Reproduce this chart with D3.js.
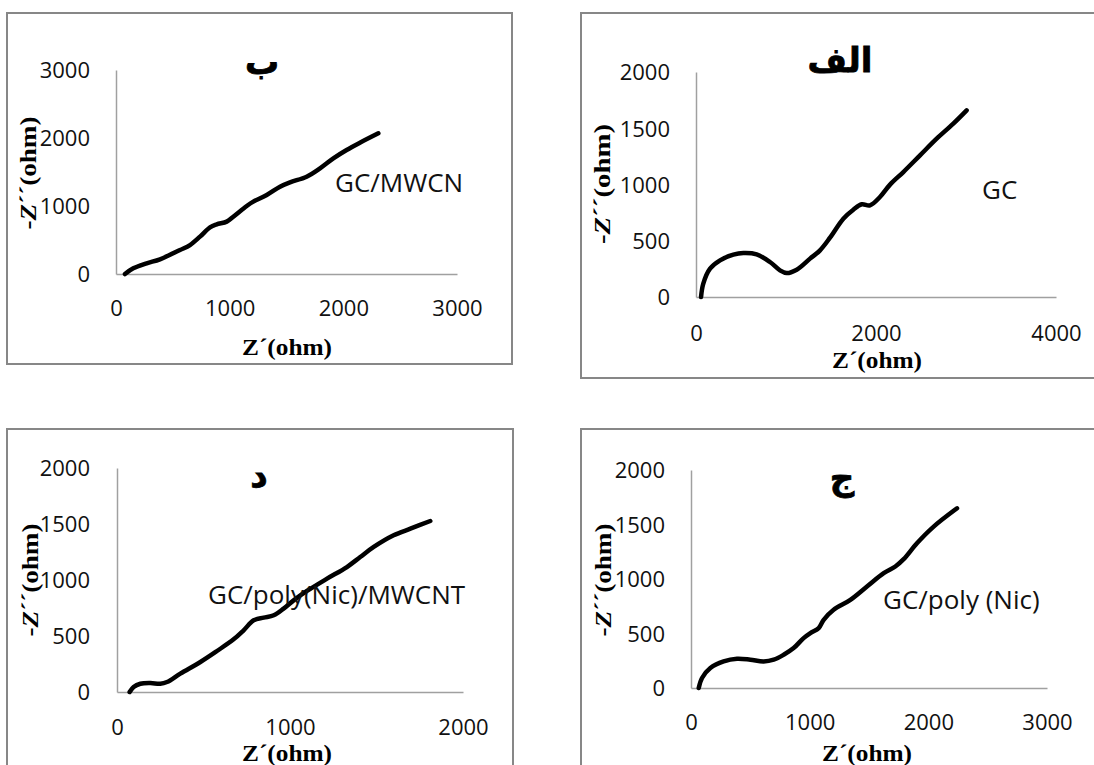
<!DOCTYPE html>
<html>
<head>
<meta charset="utf-8">
<script src="https://cdn.jsdelivr.net/npm/d3@7"></script>
<style>
  body { margin: 0; background: #fff; }
  svg { display: block; }
</style>
</head>
<body>
<svg id="chart" width="1094" height="765"></svg>
<script>
// Nyquist data: real part Z' and negative imaginary part -Z'' (ohm)

// (الف) bare GC electrode
const gcZre = [56, 81, 156, 267, 415, 526, 674, 822, 933, 1007, 1119, 1267, 1378, 1489, 1637, 1748, 1841, 1933, 2044, 2156, 2304, 2489, 2674, 2859, 3007];
const gcZim = [0, 119, 252, 326, 376, 391, 379, 311, 237, 213, 243, 341, 415, 527, 696, 776, 824, 815, 889, 999, 1111, 1259, 1407, 1541, 1659];

// (ب) GC/MWCN
const mwcnZre = [79, 152, 270, 387, 563, 651, 739, 827, 886, 974, 1032, 1150, 1208, 1326, 1443, 1531, 1677, 1795, 1912, 2029, 2146, 2308];
const mwcnZim = [0, 83, 157, 216, 353, 426, 549, 686, 730, 770, 843, 1000, 1064, 1162, 1284, 1348, 1431, 1554, 1701, 1824, 1931, 2069];

// (ج) GC/poly (Nic)
const polyZre = [65, 93, 163, 275, 388, 500, 612, 697, 781, 865, 949, 1006, 1076, 1118, 1202, 1343, 1483, 1624, 1722, 1792, 1904, 2045, 2242];
const polyZim = [0, 92, 183, 244, 269, 260, 244, 260, 305, 366, 458, 504, 550, 626, 718, 809, 931, 1053, 1115, 1182, 1328, 1481, 1649];

// (د) GC/poly(Nic)/MWCNT
const polyCntZre = [73, 96, 135, 193, 250, 289, 366, 482, 578, 674, 732, 790, 848, 906, 963, 1021, 1098, 1214, 1329, 1406, 1484, 1599, 1696, 1811];
const polyCntZim = [0, 45, 74, 80, 74, 89, 164, 268, 366, 470, 551, 640, 664, 685, 744, 818, 902, 1012, 1116, 1205, 1295, 1399, 1458, 1527];

// Axis ticks
const gcXTicks = [0, 2000, 4000];
const gcYTicks = [0, 500, 1000, 1500, 2000];
const mwcnXTicks = [0, 1000, 2000, 3000];
const mwcnYTicks = [0, 1000, 2000, 3000];
const polyXTicks = [0, 1000, 2000, 3000];
const polyYTicks = [0, 500, 1000, 1500, 2000];
const polyCntXTicks = [0, 1000, 2000];
const polyCntYTicks = [0, 500, 1000, 1500, 2000];

// Panel titles and curve labels
const panelTitles = ["ب", "الف", "د", "ج"];
const curveLabels = ["GC/MWCN", "GC", "GC/poly(Nic)/MWCNT", "GC/poly (Nic)"];
const xAxisTitle = "Z´(ohm)";
const yAxisTitle = "Z´´(ohm)";

// Layout of the four panels
const panels = [
  { zre: mwcnZre, zim: mwcnZim, xt: mwcnXTicks, yt: mwcnYTicks, title: panelTitles[0], label: curveLabels[0],
    frame: [7, 13, 512, 364], plot: { l: 116, r: 457, t: 70, b: 274 },
    xTickY: 308, yTickX: 90, titlePos: [262, 74], labelPos: [335, 183], xTitlePos: [287, 347], yTitlePos: [28, 173], yTitleLen: 113 },
  { zre: gcZre, zim: gcZim, xt: gcXTicks, yt: gcYTicks, title: panelTitles[1], label: curveLabels[1],
    frame: [581, 13, 1100, 378], plot: { l: 696, r: 1056, t: 72, b: 297 },
    xTickY: 333, yTickX: 670, titlePos: [840, 72], labelPos: [982, 190], xTitlePos: [877, 360], yTitlePos: [602, 184], yTitleLen: 120 },
  { zre: polyCntZre, zim: polyCntZim, xt: polyCntXTicks, yt: polyCntYTicks, title: panelTitles[2], label: curveLabels[2],
    frame: [7, 429, 513, 790], plot: { l: 117, r: 463, t: 468, b: 692 },
    xTickY: 727, yTickX: 90, titlePos: [259, 487], labelPos: [208, 595], xTitlePos: [287, 753], yTitlePos: [30, 580], yTitleLen: 113 },
  { zre: polyZre, zim: polyZim, xt: polyXTicks, yt: polyYTicks, title: panelTitles[3], label: curveLabels[3],
    frame: [581, 429, 1100, 790], plot: { l: 691, r: 1047, t: 470, b: 688 },
    xTickY: 722, yTickX: 665, titlePos: [842, 490], labelPos: [883, 600], xTitlePos: [867, 753], yTitlePos: [603, 580], yTitleLen: 113 }
];

const svg = d3.select("#chart");
const tickFont = "'Open Sans', 'DejaVu Sans', sans-serif";
const serifFont = "'Liberation Serif', 'DejaVu Serif', serif";

panels.forEach(p => {
  const g = svg.append("g");

  // chart frame
  g.append("rect")
    .attr("x", p.frame[0]).attr("y", p.frame[1])
    .attr("width", p.frame[2] - p.frame[0]).attr("height", p.frame[3] - p.frame[1])
    .attr("fill", "none").attr("stroke", "#878787").attr("stroke-width", 2);

  const x = d3.scaleLinear().domain([0, d3.max(p.xt)]).range([p.plot.l, p.plot.r]);
  const y = d3.scaleLinear().domain([0, d3.max(p.yt)]).range([p.plot.b, p.plot.t]);

  // x axis: plain line, labels below
  const xAxis = g.append("g").attr("transform", `translate(0,${p.plot.b})`)
    .call(d3.axisBottom(x).tickValues(p.xt).tickSize(0).tickPadding(0).tickFormat(d3.format("d")));
  xAxis.select(".domain").attr("stroke", "#a0a0a0").attr("stroke-width", 1.5);
  xAxis.selectAll("text")
    .attr("y", p.xTickY - p.plot.b).attr("dy", "0.36em")
    .attr("font-family", tickFont).attr("font-size", 22).attr("fill", "#111");

  // y axis: plain line, labels to the left
  const yAxis = g.append("g").attr("transform", `translate(${p.plot.l},0)`)
    .call(d3.axisLeft(y).tickValues(p.yt).tickSize(0).tickPadding(0).tickFormat(d3.format("d")));
  yAxis.select(".domain").attr("stroke", "#a0a0a0").attr("stroke-width", 1.5);
  yAxis.selectAll("text")
    .attr("x", p.yTickX - p.plot.l).attr("dy", "0.36em")
    .attr("font-family", tickFont).attr("font-size", 22).attr("fill", "#111");

  // impedance curve
  const pts = p.zre.map((v, i) => [v, p.zim[i]]);
  g.append("path")
    .datum(pts)
    .attr("fill", "none").attr("stroke", "#000").attr("stroke-width", 4.5)
    .attr("stroke-linecap", "round").attr("stroke-linejoin", "round")
    .attr("d", d3.line().x(d => x(d[0])).y(d => y(d[1])).curve(d3.curveCatmullRom.alpha(0.5)));

  // panel title (Arabic letter)
  g.append("text")
    .attr("x", p.titlePos[0]).attr("y", p.titlePos[1])
    .attr("text-anchor", "middle").attr("direction", "rtl")
    .attr("font-family", "'DejaVu Sans', sans-serif").attr("font-weight", "bold")
    .attr("font-size", 34).attr("fill", "#000")
    .attr("stroke", "#000").attr("stroke-width", 0.8)
    .text(p.title);

  // curve label
  g.append("text")
    .attr("x", p.labelPos[0]).attr("y", p.labelPos[1]).attr("dy", "0.36em")
    .attr("font-family", tickFont).attr("font-size", 26).attr("fill", "#111")
    .text(p.label);

  // x axis title
  g.append("text")
    .attr("x", p.xTitlePos[0]).attr("y", p.xTitlePos[1]).attr("dy", "0.33em")
    .attr("text-anchor", "middle")
    .attr("font-family", serifFont).attr("font-weight", "bold").attr("font-size", 24).attr("fill", "#000")
    .attr("textLength", 90).attr("lengthAdjust", "spacingAndGlyphs")
    .text(xAxisTitle);

  // y axis title, rotated
  const yt = g.append("text")
    .attr("transform", `translate(${p.yTitlePos[0]},${p.yTitlePos[1]}) rotate(-90)`)
    .attr("dy", "0.33em").attr("text-anchor", "middle")
    .attr("font-family", serifFont).attr("font-weight", "bold").attr("font-size", 24).attr("fill", "#000")
    .attr("textLength", p.yTitleLen).attr("lengthAdjust", "spacingAndGlyphs");
  yt.append("tspan").text("-");
  yt.append("tspan").attr("font-style", "italic").text(yAxisTitle.slice(0, 1));
  yt.append("tspan").text(yAxisTitle.slice(1));
});
</script>
</body>
</html>
